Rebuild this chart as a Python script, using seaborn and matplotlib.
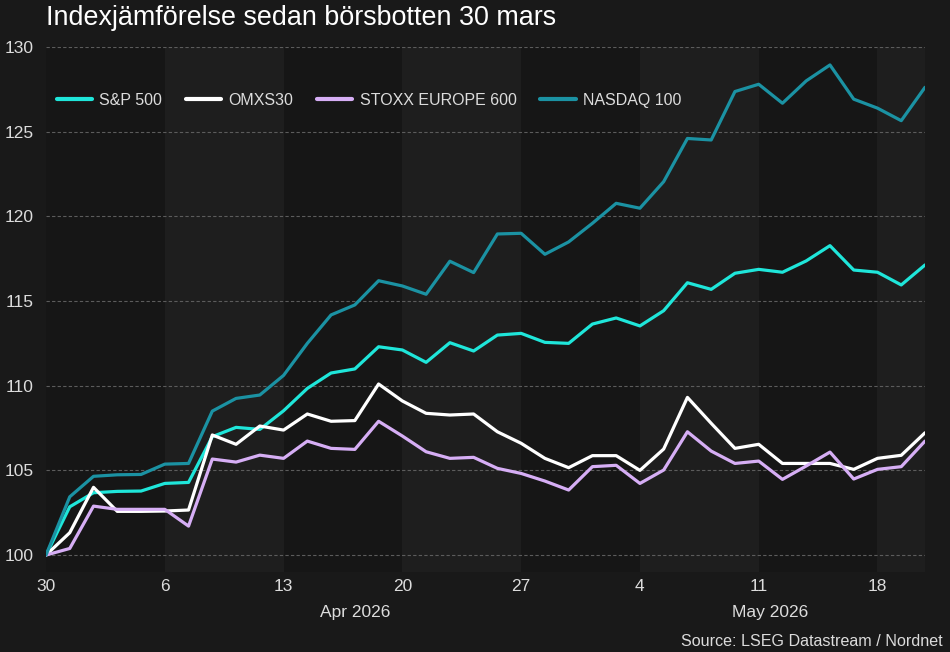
import numpy as np
import pandas as pd
import matplotlib
matplotlib.use("Agg")
import matplotlib.pyplot as plt
import seaborn as sns

dates = pd.bdate_range("2026-03-30", "2026-05-20")

series_names = ["S&P 500", "OMXS30", "STOXX EUROPE 600", "NASDAQ 100"]

sp500 = [100.0, 102.85, 103.68, 103.76, 103.78, 104.23, 104.29, 106.99, 107.54, 107.42,
         108.52, 109.84, 110.75, 110.99, 112.30, 112.11, 111.38, 112.54, 112.05, 112.99,
         113.09, 112.56, 112.50, 113.64, 114.00, 113.53, 114.43, 116.08, 115.69, 116.64,
         116.87, 116.70, 117.37, 118.27, 116.83, 116.70, 115.95, 117.13]
omxs30 = [100.0, 101.32, 104.00, 102.58, 102.58, 102.60, 102.66, 107.09, 106.54, 107.62,
          107.38, 108.33, 107.90, 107.94, 110.10, 109.10, 108.37, 108.27, 108.33, 107.28,
          106.60, 105.71, 105.16, 105.87, 105.87, 105.00, 106.26, 109.31, 107.78, 106.30,
          106.54, 105.41, 105.41, 105.41, 105.06, 105.71, 105.89, 107.22]
stoxx600 = [100.0, 100.39, 102.89, 102.70, 102.70, 102.70, 101.71, 105.67, 105.49, 105.90,
            105.71, 106.73, 106.30, 106.24, 107.90, 107.03, 106.10, 105.71, 105.77, 105.12,
            104.82, 104.37, 103.84, 105.22, 105.30, 104.23, 105.02, 107.28, 106.14, 105.41,
            105.55, 104.47, 105.26, 106.08, 104.49, 105.06, 105.22, 106.73]
nasdaq100 = [100.0, 103.44, 104.65, 104.74, 104.76, 105.37, 105.41, 108.50, 109.25, 109.45,
             110.61, 112.50, 114.18, 114.77, 116.20, 115.89, 115.40, 117.35, 116.68, 118.96,
             119.00, 117.76, 118.49, 119.59, 120.77, 120.48, 122.05, 124.60, 124.51, 127.37,
             127.80, 126.68, 128.00, 128.94, 126.92, 126.39, 125.65, 127.62]

yticks = [100, 105, 110, 115, 120, 125, 130]
month_labels = ["Apr 2026", "May 2026"]

colors = {"S&P 500": "#1fe6da", "OMXS30": "#ffffff",
          "STOXX EUROPE 600": "#d6aef5", "NASDAQ 100": "#1b92a3"}

idx = np.arange(len(dates))
df = pd.concat([
    pd.DataFrame({"i": idx, "value": vals, "Index": name})
    for name, vals in zip(series_names, [sp500, omxs30, stoxx600, nasdaq100])
])

sns.set_theme(style="dark")
plt.rcParams["font.family"] = ["Liberation Sans", "DejaVu Sans"]

FIG_BG = "#191919"
AX_BG = "#161616"
BAND = "#1e1e1e"
TXT = "#dcdcdc"

fig = plt.figure(figsize=(9.5, 6.52), dpi=100, facecolor=FIG_BG)
ax = fig.add_axes([46 / 950, 1 - 572 / 652, (925 - 46) / 950, (572 - 47) / 652])
ax.set_facecolor(AX_BG)

# weekly alternating bands
mondays = [k for k, d in enumerate(dates) if d.weekday() == 0]
for n, m in enumerate(mondays):
    if n % 2 == 1:
        end = mondays[n + 1] if n + 1 < len(mondays) else idx[-1]
        ax.axvspan(m, end, color=BAND, lw=0, zorder=0)

for y in yticks:
    ax.axhline(y, color="#5c5c5c", lw=0.8, ls=(0, (3, 2)), zorder=1)

sns.lineplot(data=df, x="i", y="value", hue="Index", hue_order=series_names,
             palette=colors, lw=2.3, ax=ax, zorder=3, legend=True)

ax.set_xlim(0, idx[-1])
ax.set_ylim(99, 130)
ax.set_yticks(yticks)
ax.set_yticklabels([str(y) for y in yticks], color=TXT, fontsize=12.5)
ax.set_xticks(mondays)
ax.set_xticklabels([str(dates[k].day) for k in mondays], color=TXT, fontsize=12.5)
ax.tick_params(axis="both", length=0)
ax.tick_params(axis="y", pad=9)
ax.tick_params(axis="x", pad=5)
ax.set_xlabel("")
ax.set_ylabel("")
ax.grid(False)
for s in ax.spines.values():
    s.set_visible(False)

# month labels
ax.text(13.0, -0.077, month_labels[0], transform=ax.get_xaxis_transform(),
        ha="center", va="center", color=TXT, fontsize=12.5)
ax.text(30.5, -0.077, month_labels[1], transform=ax.get_xaxis_transform(),
        ha="center", va="center", color=TXT, fontsize=12.5)

leg = ax.legend(loc="center left", bbox_to_anchor=(0.0125, 0.899), ncol=4,
                frameon=False, fontsize=11.5, handlelength=2.2, handletextpad=0.45,
                columnspacing=1.5, borderaxespad=0, borderpad=0)
for t in leg.get_texts():
    t.set_color(TXT)
for h in leg.get_lines():
    h.set_linewidth(3)

fig.text(46 / 950, 1 - 18 / 652, "Indexjämförelse sedan börsbotten 30 mars",
         ha="left", va="center", color="#ffffff", fontsize=19.4)
fig.text(943 / 950, 1 - 641 / 652, "Source: LSEG Datastream / Nordnet",
         ha="right", va="center", color=TXT, fontsize=11.6)

fig.savefig("out.png", dpi=100, facecolor=FIG_BG)
